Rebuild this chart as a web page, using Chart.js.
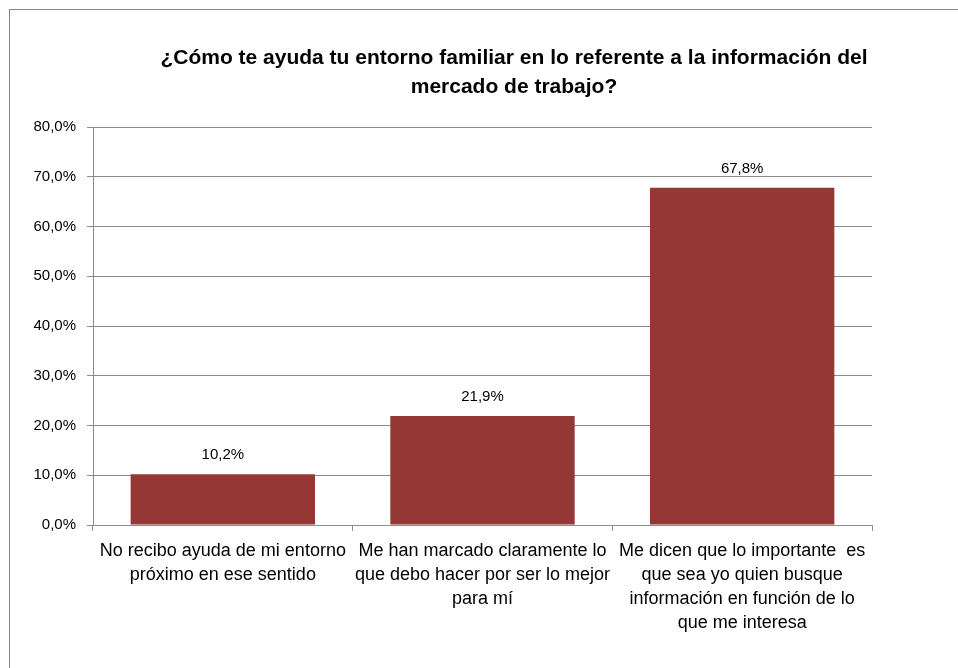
<!DOCTYPE html>
<html>
<head>
<meta charset="utf-8">
<script src="https://cdn.jsdelivr.net/npm/chart.js@4"></script>
<style>
  html, body { margin: 0; padding: 0; background: #fff; overflow: hidden; width: 958px; height: 668px; }
  #box { position: absolute; left: 9px; top: 9px; width: 1008px; height: 680px; border: 1px solid #868686; background: #fff; }
  canvas { display: block; }
</style>
</head>
<body>
<div id="box"><canvas id="c" width="1008" height="680"></canvas></div>
<script>
const titleLines = [
  "¿Cómo te ayuda tu entorno familiar en lo referente a la información del",
  "mercado de trabajo?"
];
const categories = [
  ["No recibo ayuda de mi entorno", "próximo en ese sentido"],
  ["Me han marcado claramente lo", "que debo hacer por ser lo mejor", "para mí"],
  ["Me dicen que lo importante  es", "que sea yo quien busque", "información en función de lo", "que me interesa"]
];
const values = [10.2, 21.9, 67.8];
const yTicks = [0, 10, 20, 30, 40, 50, 60, 70, 80];

const fmt = v => v.toFixed(1).replace('.', ',') + '%';
const FONT = "'Liberation Sans', Arial, sans-serif";

const dataLabels = {
  id: 'dataLabels',
  afterDatasetsDraw(chart) {
    const ctx = chart.ctx;
    const meta = chart.getDatasetMeta(0);
    ctx.save();
    ctx.font = "15px " + FONT;
    ctx.fillStyle = '#000';
    ctx.textAlign = 'center';
    ctx.textBaseline = 'middle';
    meta.data.forEach((bar, i) => {
      ctx.fillText(fmt(values[i]), bar.x, bar.y - 19);
    });
    ctx.restore();
  }
};

// Title centred on the whole chart box (which extends past the window on the right)
const wideTitle = {
  id: 'wideTitle',
  afterDraw(chart) {
    const ctx = chart.ctx;
    ctx.save();
    ctx.font = "bold 21px " + FONT;
    ctx.fillStyle = '#000';
    ctx.textAlign = 'center';
    ctx.textBaseline = 'middle';
    titleLines.forEach((t, i) => ctx.fillText(t, chart.width / 2, 48 + i * 29));
    ctx.restore();
  }
};

Chart.defaults.font.family = FONT;
Chart.defaults.color = '#000';

new Chart(document.getElementById('c'), {
  type: 'bar',
  data: {
    labels: categories,
    datasets: [{
      data: values,
      backgroundColor: '#953735',
      borderWidth: 0,
      categoryPercentage: 1.0,
      barPercentage: 0.71
    }]
  },
  options: {
    responsive: false,
    animation: false,
    devicePixelRatio: 1,
    layout: { padding: { top: 117, left: 0, right: 146, bottom: 25 } },
    plugins: {
      legend: { display: false },
      tooltip: { enabled: false },
      title: { display: false }
    },
    scales: {
      y: {
        min: 0,
        max: 80,
        afterFit(scale) { scale.width = 83; },
        afterBuildTicks(scale) { scale.ticks = yTicks.map(v => ({ value: v })); },
        ticks: {
          callback: v => fmt(v),
          font: { size: 15 },
          color: '#000',
          padding: 11
        },
        grid: { color: '#8c8c8c', lineWidth: 1, tickLength: 6 },
        border: { color: '#8c8c8c', width: 1 }
      },
      x: {
        afterFit(scale) { scale.height = 140; },
        ticks: {
          maxRotation: 0,
          minRotation: 0,
          autoSkip: false,
          font: { size: 18, lineHeight: 24 / 18 },
          color: '#000',
          padding: 8
        },
        grid: { offset: true, drawOnChartArea: false, drawTicks: true, tickLength: 6, color: '#8c8c8c' },
        border: { color: '#8c8c8c', width: 1 }
      }
    }
  },
  plugins: [dataLabels, wideTitle]
});
</script>
</body>
</html>
